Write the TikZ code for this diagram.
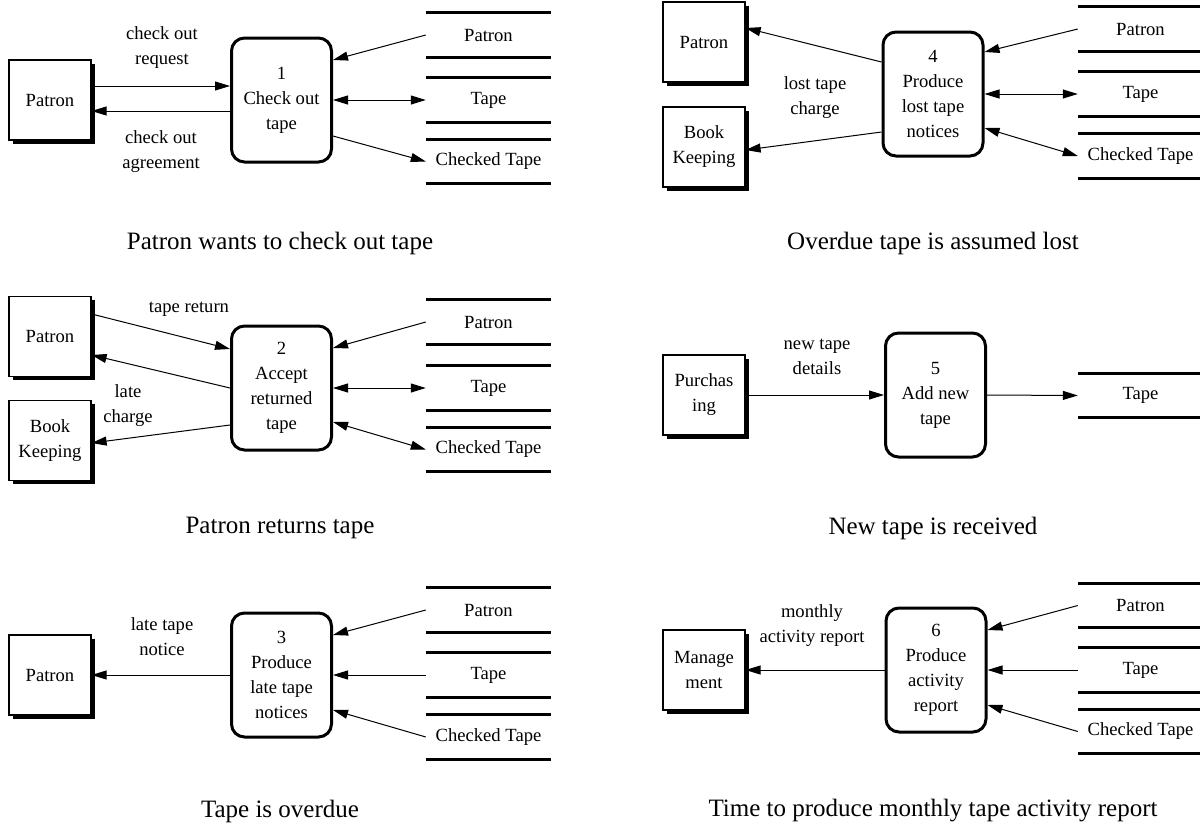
\documentclass[tikz,border=0pt]{standalone}
\usepackage{fontspec}
\setmainfont{Liberation Serif}
\usepackage{tikz}
\usetikzlibrary{arrows.meta}
\usetikzlibrary{shadows}
\tikzstyle{entity}=[draw, line width=1.2pt, fill=white, minimum width=82pt, minimum height=80pt, inner sep=0pt, align=center,
    drop shadow={shadow xshift=3.5pt, shadow yshift=-3.5pt, opacity=1, fill=black}]
\tikzstyle{process}=[draw, line width=3pt, rounded corners=13pt, fill=white, minimum width=100pt, minimum height=124pt, inner sep=0pt, align=center]
\tikzstyle{storeline}=[line width=2.7pt]
\tikzstyle{store}=[minimum width=125pt, minimum height=44pt, inner sep=0pt,
    append after command={
      (\tikzlastnode.north west) edge[storeline] (\tikzlastnode.north east)
      (\tikzlastnode.south west) edge[storeline] (\tikzlastnode.south east)
    }
]
\tikzstyle{flowlabel}=[align=center]
\tikzstyle{flow}=[line width=1pt, -{Triangle[length=15pt,width=9pt]}]
\tikzstyle{flowboth}=[line width=1pt, {Triangle[length=15pt,width=9pt]}-{Triangle[length=15pt,width=9pt]}]
\tikzstyle{caption}=[font=\fontsize{25}{30}\selectfont]

\begin{document}
\begin{tikzpicture}[x=1pt, y=-1pt, font=\fontsize{18.6}{25}\selectfont]
\useasboundingbox (0,0) rectangle (1200,833);
\node[entity] (e1) at (50,100){Patron};
\node[process] (p1) at (281.5,100){1\\Check out\\tape};
\node[store] (s1a) at (488.5,35){Patron};
\node[store] (s1b) at (488.5,100){Tape};
\node[store] (s1c) at (488.5,161.5){Checked Tape};
\node[flowlabel] (l1a) at (162,48){check out\\request};
\node[flowlabel] (l1b) at (161,152){check out\\agreement};
\draw[flow]([yshift=14pt]e1.east) -- ([yshift=14pt]p1.west);
\draw[flow]([yshift=-11pt]p1.west) -- ([yshift=-11pt]e1.east);
\draw[flow](s1a.west) -- ([yshift=40pt]p1.east);
\draw[flowboth](p1.east) -- (s1b.west);
\draw[flow]([yshift=-36pt]p1.east) -- (s1c.west);
\node[caption] (c1) at (280,243){Patron wants to check out tape};
\node[entity] (e4a) at (704,42){Patron};
\node[entity] (e4b) at (704,147){Book\\Keeping};
\node[process] (p4) at (933,94){4\\Produce\\lost tape\\notices};
\node[store] (s4a) at (1140.5,29){Patron};
\node[store] (s4b) at (1140.5,94){Tape};
\node[store] (s4c) at (1140.5,156){Checked Tape};
\node[flowlabel] (l4) at (815,98){lost tape\\charge};
\draw[flow]([yshift=32pt]p4.west) -- ([yshift=14pt]e4a.east);
\draw[flow]([yshift=-38pt]p4.west) -- ([yshift=-3pt]e4b.east);
\draw[flow](s4a.west) -- ([yshift=42pt]p4.east);
\draw[flowboth](p4.east) -- (s4b.west);
\draw[flowboth]([yshift=-34pt]p4.east) -- (s4c.west);
\node[caption] (c4) at (933,243){Overdue tape is assumed lost};
\node[entity] (e2a) at (50,336.5){Patron};
\node[entity] (e2b) at (50,440.5){Book\\Keeping};
\node[process] (p2) at (281.5,388){2\\Accept\\returned\\tape};
\node[store] (s2a) at (488.5,322){Patron};
\node[store] (s2b) at (488.5,388){Tape};
\node[store] (s2c) at (488.5,449.5){Checked Tape};
\node[flowlabel] (l2a) at (189,309){tape return};
\node[flowlabel] (l2b) at (128,406){late\\charge};
\draw[flow]([yshift=22.5pt]e2a.east) -- ([yshift=39pt]p2.west);
\draw[flow](p2.west) -- ([yshift=-18.5pt]e2a.east);
\draw[flow]([yshift=-37pt]p2.west) -- ([yshift=-2.5pt]e2b.east);
\draw[flow](s2a.west) -- ([yshift=40pt]p2.east);
\draw[flowboth](p2.east) -- (s2b.west);
\draw[flowboth]([yshift=-34pt]p2.east) -- (s2c.west);
\node[caption] (c2) at (280,528){Patron returns tape};
\node[entity] (e5) at (704,395){Purchas\\ing};
\node[process] (p5) at (935.5,395){5\\Add new\\tape};
\node[store] (s5) at (1140.5,395.5){Tape};
\node[flowlabel] (l5) at (817,357){new tape\\details};
\draw[flow](e5.east) -- (p5.west);
\draw[flow](p5.east) -- (s5.west);
\node[caption] (c5) at (933,528){New tape is received};
\node[entity] (e3) at (50,675){Patron};
\node[process] (p3) at (281.5,675){3\\Produce\\late tape\\notices};
\node[store] (s3a) at (488.5,610){Patron};
\node[store] (s3b) at (488.5,675){Tape};
\node[store] (s3c) at (488.5,737){Checked Tape};
\node[flowlabel] (l3) at (162,637){late tape\\notice};
\draw[flow](p3.west) -- (e3.east);
\draw[flow](s3a.west) -- ([yshift=40pt]p3.east);
\draw[flow](s3b.west) -- (p3.east);
\draw[flow](s3c.west) -- ([yshift=-35pt]p3.east);
\node[caption] (c3) at (280,811){Tape is overdue};
\node[entity] (e6) at (704,670){Manage\\ment};
\node[process] (p6) at (936,670){6\\Produce\\activity\\report};
\node[store] (s6a) at (1140.5,605.5){Patron};
\node[store] (s6b) at (1140.5,670){Tape};
\node[store] (s6c) at (1140.5,731.5){Checked Tape};
\node[flowlabel] (l6) at (812,626){monthly\\activity report};
\draw[flow](p6.west) -- (e6.east);
\draw[flow](s6a.west) -- ([yshift=40pt]p6.east);
\draw[flow](s6b.west) -- (p6.east);
\draw[flow](s6c.west) -- ([yshift=-35pt]p6.east);
\node[caption] (c6) at (933,811){Time to produce monthly tape activity report};
\end{tikzpicture}
\end{document}
